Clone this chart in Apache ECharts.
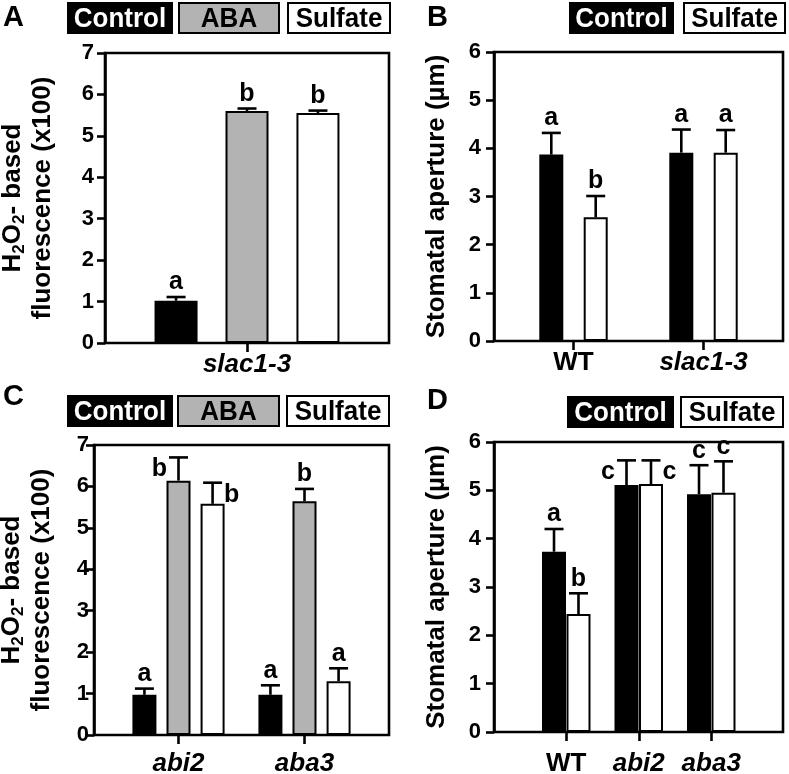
<!DOCTYPE html>
<html>
<head>
<meta charset="utf-8">
<script src="https://cdn.jsdelivr.net/npm/echarts@6/dist/echarts.min.js"></script>
<style>html,body{margin:0;padding:0;background:#fff;}#c{width:789px;height:774px;}</style>
</head>
<body>
<div id="c"></div>
<script>
// ---------- DATA ----------
// Panel A (H2O2-based fluorescence x100)
const catsA = ['slac1-3'];
const aControl = [1.02];
const aControlErr = [1.11];
const aABA = [5.60];
const aABAErr = [5.66];
const aSulfate = [5.55];
const aSulfateErr = [5.61];
const aControlLetters = ['a'];
const aABALetters = ['b'];
const aSulfateLetters = ['b'];
const aControlPlace = ['top'];
const aABAPlace = ['top'];
const aSulfatePlace = ['top'];

// Panel B (Stomatal aperture, µm)
const catsB = ['WT', 'slac1-3'];
const bControl = [3.87, 3.91];
const bControlErr = [4.32, 4.39];
const bSulfate = [2.57, 3.91];
const bSulfateErr = [3.01, 4.38];
const bControlLetters = ['a', 'a'];
const bSulfateLetters = ['b', 'a'];
const bControlPlace = ['top', 'top'];
const bSulfatePlace = ['top', 'top'];

// Panel C (H2O2-based fluorescence x100)
const catsC = ['abi2', 'aba3'];
const cControl = [0.97, 0.97];
const cControlErr = [1.12, 1.20];
const cABA = [6.14, 5.64];
const cABAErr = [6.70, 5.94];
const cSulfate = [5.58, 1.30];
const cSulfateErr = [6.09, 1.61];
const cControlLetters = ['a', 'a'];
const cABALetters = ['b', 'b'];
const cSulfateLetters = ['b', 'a'];
const cControlPlace = ['top', 'top'];
const cABAPlace = ['left', 'top'];
const cSulfatePlace = ['right', 'top'];

// Panel D (Stomatal aperture, µm)
const catsD = ['WT', 'abi2', 'aba3'];
const dControl = [3.73, 5.11, 4.92];
const dControlErr = [4.20, 5.62, 5.52];
const dSulfate = [2.44, 5.13, 4.95];
const dSulfateErr = [2.87, 5.62, 5.60];
const dControlLetters = ['a', 'c', 'c'];
const dSulfateLetters = ['b', 'c', 'c'];
const dControlPlace = ['top', 'left', 'top'];
const dSulfatePlace = ['top', 'right', 'top'];

const fluorTicks = [0, 1, 2, 3, 4, 5, 6, 7];
const apertureTicks = [0, 1, 2, 3, 4, 5, 6];
const legendNames = ['Control', 'ABA', 'Sulfate'];

// ---------- STYLE ----------
const FONT = 'Liberation Sans, Arial, Helvetica, sans-serif';
const LW = 2.6;
const COLORS = { Control: '#000000', ABA: '#b3b3b3', Sulfate: '#ffffff' };
const CAP = 19;

const chart = echarts.init(document.getElementById('c'), null, { renderer: 'canvas' });

function catData(cats) {
  return cats.map(c => ({ value: c, textStyle: { fontStyle: c === 'WT' ? 'normal' : 'italic' } }));
}

function valueAxis(gridIndex, max, visible, margin, name, nameGap) {
  const ax = {
    type: 'value', gridIndex, min: 0, max, interval: 1,
    show: visible,
    axisLine: { show: true, lineStyle: { color: '#000', width: LW } },
    axisTick: { show: true, inside: false, length: 8, lineStyle: { color: '#000', width: LW } },
    axisLabel: { margin, color: '#000', fontSize: 22, fontWeight: 'bold', fontFamily: FONT },
    splitLine: { show: false }
  };
  if (name) {
    ax.name = name.text;
    ax.nameLocation = 'middle';
    ax.nameRotate = 90;
    ax.nameGap = nameGap;
    ax.nameTextStyle = name.style;
  }
  return ax;
}

function catAxis(gridIndex, cats, visible, margin) {
  return {
    type: 'category', gridIndex, data: cats ? catData(cats) : [''],
    show: visible,
    axisLine: { show: false },
    axisTick: { show: true, alignWithLabel: true, interval: 0, length: 9, lineStyle: { color: '#000', width: LW } },
    axisLabel: { interval: 0, margin, color: '#000', fontSize: 26, fontWeight: 'bold', fontFamily: FONT },
    splitLine: { show: false }
  };
}

function barSeries(name, xi, yi, vals, bw, gap) {
  return {
    type: 'bar', name, xAxisIndex: xi, yAxisIndex: yi, data: vals,
    barWidth: bw, barGap: gap,
    itemStyle: { color: COLORS[name], borderColor: '#000', borderWidth: 2 },
    emphasis: { disabled: true },
    animation: false, z: 2
  };
}

function errSeries(xi, yi, vals, errs, letters, places, count, idx, bw, gap) {
  const data = vals.map((v, i) => [i, v, errs[i]]);
  return {
    type: 'custom', xAxisIndex: xi, yAxisIndex: yi, z: 5, animation: false,
    data,
    encode: { x: 0, y: [1, 2] },
    renderItem: function (params, api) {
      const ci = api.value(0);
      let off;
      if (api.barLayout) {
        const lay = api.barLayout({ count, barWidth: bw, barGap: gap });
        off = lay[idx].offsetCenter;
      } else {
        const g = parseFloat(gap) / 100;
        const total = count * bw + (count - 1) * bw * g;
        off = -total / 2 + idx * bw * (1 + g) + bw / 2;
      }
      const p0 = api.coord([ci, api.value(1)]);
      const p1 = api.coord([ci, api.value(2)]);
      const x = p0[0] + off;
      const lineStyle = { stroke: '#000', lineWidth: LW };
      const place = places[params.dataIndex];
      let tx = x, ty = p1[1] - 2, align = 'center', va = 'bottom';
      if (place === 'left') { tx = x - CAP / 2 - 2; ty = p1[1] + 12; align = 'right'; va = 'middle'; }
      if (place === 'right') { tx = x + CAP / 2 + 2; ty = p1[1] + 12; align = 'left'; va = 'middle'; }
      return {
        type: 'group',
        children: [
          { type: 'line', shape: { x1: x, y1: p0[1], x2: x, y2: p1[1] }, style: lineStyle },
          { type: 'line', shape: { x1: x - CAP / 2, y1: p1[1], x2: x + CAP / 2, y2: p1[1] }, style: lineStyle },
          { type: 'text', x: tx, y: ty, style: { text: letters[params.dataIndex], fill: '#000', font: 'bold 25px ' + FONT, align, verticalAlign: va } }
        ]
      };
    }
  };
}

const fluorName = {
  text: '{t|H}{s|2}{t|O}{s|2}{t|- based}\n{t|fluorescence (x100)}',
  style: {
    color: '#000', fontFamily: FONT, fontWeight: 'bold', fontSize: 26,
    rich: {
      t: { fontSize: 26, fontWeight: 'bold', fontFamily: FONT, color: '#000', lineHeight: 30 },
      s: { fontSize: 17, fontWeight: 'bold', fontFamily: FONT, color: '#000', lineHeight: 16, verticalAlign: 'bottom' }
    }
  }
};
const apertureName = {
  text: 'Stomatal aperture (µm)',
  style: { color: '#000', fontFamily: FONT, fontWeight: 'bold', fontSize: 26 }
};

function boxGrid(left, top, width, height) {
  return { left, top, width, height, show: true, borderColor: '#000', borderWidth: LW, backgroundColor: 'transparent', containLabel: false, outerBoundsMode: 'none' };
}
function plainGrid(left, top, width, height) {
  return { left, top, width, height, show: false, containLabel: false, outerBoundsMode: 'none' };
}

// legend boxes & panel letters (graphic)
function legendBox(x, y, w, h, name) {
  return {
    type: 'group', x, y,
    children: [
      { type: 'rect', shape: { x: 0, y: 0, width: w, height: h }, style: { fill: COLORS[name], stroke: '#000', lineWidth: 2 } },
      { type: 'text', x: w / 2, y: h / 2 + 1, scaleY: 1.08, style: { text: name, fill: name === 'Control' ? '#fff' : '#000', font: 'bold 26px ' + FONT, align: 'center', verticalAlign: 'middle' } }
    ]
  };
}
function panelLetter(x, y, t) {
  return { type: 'text', x, y, style: { text: t, fill: '#000', font: 'bold 29px ' + FONT, align: 'left', verticalAlign: 'top' } };
}

const bwA = 43, gapA = '65%';
const bwB = 24, gapB = '85%';
const bwC = 24, gapC = '42%';
const bwD = 24, gapD = '2%';

const option = {
  backgroundColor: '#fff',
  animation: false,
  grid: [
    boxGrid(105, 53, 284, 290),      // 0 A
    boxGrid(494, 52, 289, 289),      // 1 B box
    plainGrid(508.5, 52, 260, 289),  // 2 B bars
    boxGrid(94, 445, 295, 290),      // 3 C box
    plainGrid(115.5, 445, 252, 290), // 4 C bars
    boxGrid(494, 442, 289, 290),     // 5 D box
    plainGrid(530, 442, 217.5, 290)  // 6 D bars
  ],
  xAxis: [
    catAxis(0, catsA, true, 9),
    catAxis(1, null, false, 9),
    catAxis(2, catsB, true, 9),
    catAxis(3, null, false, 9),
    catAxis(4, catsC, true, 16),
    catAxis(5, null, false, 9),
    catAxis(6, catsD, true, 19)
  ],
  yAxis: [
    valueAxis(0, fluorTicks[fluorTicks.length - 1], true, 11, fluorName, 47),
    valueAxis(1, apertureTicks[apertureTicks.length - 1], true, 13, apertureName, 44),
    valueAxis(2, apertureTicks[apertureTicks.length - 1], false, 13),
    valueAxis(3, fluorTicks[fluorTicks.length - 1], true, 5, fluorName, 37),
    valueAxis(4, fluorTicks[fluorTicks.length - 1], false, 5),
    valueAxis(5, apertureTicks[apertureTicks.length - 1], true, 13, apertureName, 44),
    valueAxis(6, apertureTicks[apertureTicks.length - 1], false, 13)
  ],
  series: [
    barSeries('Control', 0, 0, aControl, bwA, gapA),
    barSeries('ABA', 0, 0, aABA, bwA, gapA),
    barSeries('Sulfate', 0, 0, aSulfate, bwA, gapA),
    errSeries(0, 0, aControl, aControlErr, aControlLetters, aControlPlace, 3, 0, bwA, gapA),
    errSeries(0, 0, aABA, aABAErr, aABALetters, aABAPlace, 3, 1, bwA, gapA),
    errSeries(0, 0, aSulfate, aSulfateErr, aSulfateLetters, aSulfatePlace, 3, 2, bwA, gapA),

    barSeries('Control', 2, 2, bControl, bwB, gapB),
    barSeries('Sulfate', 2, 2, bSulfate, bwB, gapB),
    errSeries(2, 2, bControl, bControlErr, bControlLetters, bControlPlace, 2, 0, bwB, gapB),
    errSeries(2, 2, bSulfate, bSulfateErr, bSulfateLetters, bSulfatePlace, 2, 1, bwB, gapB),

    barSeries('Control', 4, 4, cControl, bwC, gapC),
    barSeries('ABA', 4, 4, cABA, bwC, gapC),
    barSeries('Sulfate', 4, 4, cSulfate, bwC, gapC),
    errSeries(4, 4, cControl, cControlErr, cControlLetters, cControlPlace, 3, 0, bwC, gapC),
    errSeries(4, 4, cABA, cABAErr, cABALetters, cABAPlace, 3, 1, bwC, gapC),
    errSeries(4, 4, cSulfate, cSulfateErr, cSulfateLetters, cSulfatePlace, 3, 2, bwC, gapC),

    barSeries('Control', 6, 6, dControl, bwD, gapD),
    barSeries('Sulfate', 6, 6, dSulfate, bwD, gapD),
    errSeries(6, 6, dControl, dControlErr, dControlLetters, dControlPlace, 2, 0, bwD, gapD),
    errSeries(6, 6, dSulfate, dSulfateErr, dSulfateLetters, dSulfatePlace, 2, 1, bwD, gapD)
  ],
  graphic: [
    panelLetter(3, 3, 'A'),
    panelLetter(427, 3, 'B'),
    panelLetter(3, 382, 'C'),
    panelLetter(427, 386, 'D'),
    legendBox(68, 3, 104, 30, legendNames[0]),
    legendBox(179, 3, 100, 30, legendNames[1]),
    legendBox(288, 3, 102, 30, legendNames[2]),
    legendBox(570, 3, 103, 30, legendNames[0]),
    legendBox(684, 3, 101, 30, legendNames[2]),
    legendBox(68, 396, 104, 30, legendNames[0]),
    legendBox(178, 396, 101, 30, legendNames[1]),
    legendBox(287, 396, 102, 30, legendNames[2]),
    legendBox(568, 397, 105, 30, legendNames[0]),
    legendBox(681, 397, 102, 30, legendNames[2])
  ]
};
chart.setOption(option);
</script>
</body>
</html>
